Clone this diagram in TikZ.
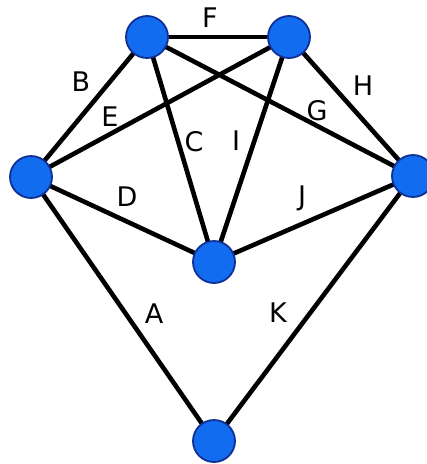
\documentclass[tikz,border=0pt]{standalone}
\usepackage{fontspec}
\setmainfont{DejaVu Sans}
\usetikzlibrary{backgrounds}
\definecolor{vertblue}{RGB}{18,108,240}
\definecolor{vertline}{RGB}{16,48,150}
\tikzset{
  vertex/.style={circle, draw=vertline, line width=1.8pt, fill=vertblue,
    minimum size=42pt, inner sep=0pt},
  link/.style={line width=4.6pt, black},
  lbl/.style={font=\fontsize{27}{30}\selectfont, inner sep=0pt},
}
\begin{document}
\begin{tikzpicture}[x=1pt,y=-1pt]
    \useasboundingbox (0,0) rectangle (427,464);
    % vertices
    \node[vertex] (tl) at (147,37) {};
    \node[vertex] (tr) at (289,37) {};
    \node[vertex] (lf) at (31,177) {};
    \node[vertex] (rt) at (413,176) {};
    \node[vertex] (md) at (214,262) {};
    \node[vertex] (bt) at (214,441) {};

    % edges, kept behind the vertices
    \begin{scope}[on background layer]
    \draw[link] (lf.center) -- (bt.center);
    \draw[link] (lf.center) -- (tl.center);
    \draw[link] (tl.center) -- (md.center);
    \draw[link] (lf.center) -- (md.center);
    \draw[link] (lf.center) -- (tr.center);
    \draw[link] (tl.center) -- (tr.center);
    \draw[link] (tl.center) -- (rt.center);
    \draw[link] (tr.center) -- (rt.center);
    \draw[link] (tr.center) -- (md.center);
    \draw[link] (md.center) -- (rt.center);
    \draw[link] (rt.center) -- (bt.center);
    \end{scope}

    % edge names
    \node[lbl] (la) at (154,314) {A};
    \node[lbl] (lb) at (81,82) {B};
    \node[lbl] (lc) at (194,142) {C};
    \node[lbl] (ld) at (127,197) {D};
    \node[lbl] (le) at (110,117) {E};
    \node[lbl] (lF) at (210,18) {F};
    \node[lbl] (lg) at (317,111) {G};
    \node[lbl] (lh) at (363,86) {H};
    \node[lbl] (li) at (236,141) {I};
    \node[lbl] (lj) at (302,198) {J};
    \node[lbl] (lk) at (278,313) {K};
\end{tikzpicture}
\end{document}
